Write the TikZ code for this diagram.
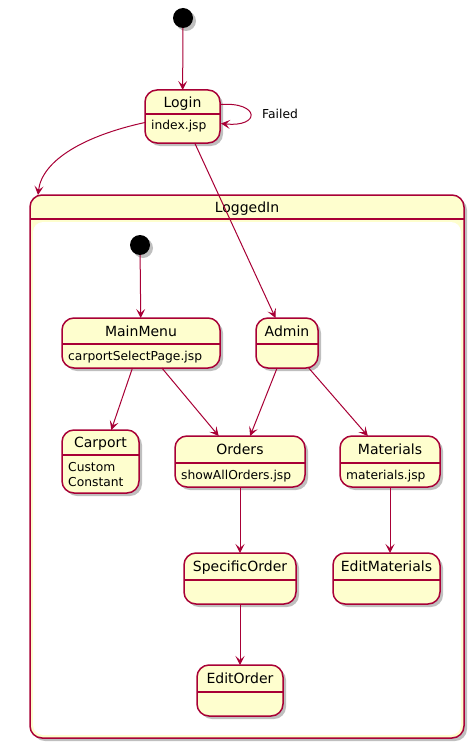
\documentclass[tikz,border=0pt]{standalone}
\usepackage{fontspec}
\setmainfont{DejaVu Sans}
\usetikzlibrary{arrows.meta,shadows,calc}
\definecolor{umlred}{HTML}{A80036}
\definecolor{umlfill}{HTML}{FEFECE}
\tikzset{
  umlshadow/.style={drop shadow={shadow xshift=3pt,shadow yshift=-3pt,fill=black,opacity=0.25}},
  statebox/.style={draw=umlred,fill=umlfill,line width=1.5pt,rounded corners=12pt,inner sep=0pt,outer sep=0pt,umlshadow},
  compbox/.style={draw=umlred,fill=umlfill,line width=1.5pt,rounded corners=12pt,inner sep=0pt,outer sep=0pt,umlshadow},
  umlline/.style={draw=umlred,line width=1.5pt},
  titletext/.style={anchor=base,inner sep=0pt,font=\fontsize{14}{17}\selectfont},
  bodytext/.style={anchor=base west,inner sep=0pt,font=\fontsize{12.3}{15}\selectfont},
  edgelabel/.style={anchor=base west,inner sep=0pt,font=\fontsize{12.3}{15}\selectfont},
  initstate/.style={circle,fill=black,minimum size=20pt,inner sep=0pt,outer sep=0pt,umlshadow},
  arr/.style={draw=umlred,line width=1pt,-{Stealth[length=9pt,width=9pt,inset=4pt]}},
}
% name, x1, y1, x2, y2, ydiv, title, body
\newcommand\umlstate[8]{%
  \node[statebox,minimum width={(#4-#2)*1pt},minimum height={(#5-#3)*1pt}] (#1) at ({(#2+#4)/2},{(#3+#5)/2}) {};
  \draw[umlline] (#2,#6) -- (#4,#6);
  \node[titletext] (#1-t) at ({(#2+#4)/2},{(#3+#6)/2+5}) {#7};
  \node[bodytext] (#1-b) at ({#2+6},{#6+16}) {#8};
}
\begin{document}
\begin{tikzpicture}[x=1pt,y=-1pt]
\useasboundingbox (0,0) rectangle (475,749);
% composite state
\node[compbox,minimum width=434pt,minimum height=543pt] (loggedin) at (247,466.5) {};
\fill[white,rounded corners=10pt] (33,222) rectangle (461,735);
\draw[umlline] (30,219) -- (464,219);
\node[titletext] (loggedin-t) at (247,212) {LoggedIn};
% initial states
\node[initstate] (init) at (183,18) {};
\node[initstate] (init2) at (140,245) {};
% states
\umlstate{login}{145}{90}{220}{143}{114}{Login}{index.jsp}
\umlstate{mainmenu}{62}{318}{220}{368}{344}{MainMenu}{carportSelectPage.jsp}
\umlstate{admin}{256}{318}{318}{368}{344}{Admin}{}
\umlstate{carport}{62}{430}{139}{493}{455}{Carport}{\vtop{\hbox{Custom}\hbox{Constant}}}
\umlstate{orders}{175}{436}{305}{487}{463}{Orders}{showAllOrders.jsp}
\umlstate{materials}{340}{436}{440}{487}{463}{Materials}{materials.jsp}
\umlstate{specific}{184}{553}{296}{604}{580}{SpecificOrder}{}
\umlstate{editmat}{333}{553}{440}{604}{580}{EditMaterials}{}
\umlstate{editorder}{197}{665}{283}{716}{692}{EditOrder}{}
% connectors
\draw[arr] (init) -- (login);
\draw[arr] ($(login.east)+(0,-12)$) .. controls +(40,-3) and +(40,4) .. ($(login.east)+(1,7)$);
\node[edgelabel] (failed) at (262,118) {Failed};
\draw[arr] ($(login.west)+(0,6)$) .. controls +(-60,13) and +(4,-35) .. ($(loggedin.north west)+(8,0)$);
\draw[arr] (login) -- (admin);
\draw[arr] (init2) -- (mainmenu);
\draw[arr] (mainmenu) -- (carport);
\draw[arr] (mainmenu) -- (orders);
\draw[arr] (admin) -- (orders);
\draw[arr] (admin) -- (materials);
\draw[arr] (orders) -- (specific);
\draw[arr] (materials.south) -- (materials.south |- editmat.north);
\draw[arr] (specific) -- (editorder);
\end{tikzpicture}
\end{document}
